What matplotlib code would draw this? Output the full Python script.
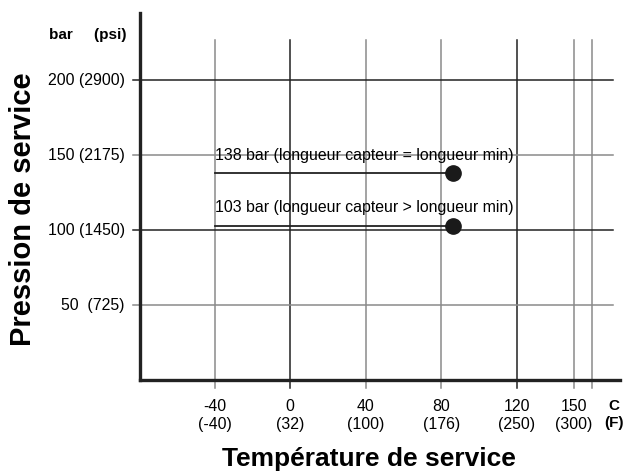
import numpy as np
import matplotlib.pyplot as plt

plt.rcParams['font.family'] = ['Liberation Sans', 'DejaVu Sans']

# temperature grid (C) with F labels
temp_c = [-40, 0, 40, 80, 120, 150, 160]
temp_labels = ["-40\n(-40)", "0\n(32)", "40\n(100)", "80\n(176)", "120\n(250)", "150\n(300)", ""]
temp_colors = ["#8a8a8a", "#222222", "#8a8a8a", "#8a8a8a", "#222222", "#8a8a8a", "#8a8a8a"]

# pressure grid (bar) with psi labels
press_bar = [50, 100, 150, 200]
press_labels = ["50  (725)", "100 (1450)", "150 (2175)", "200 (2900)"]
press_colors = ["#8a8a8a", "#222222", "#8a8a8a", "#222222"]

# rated points
point_temp = [86, 86]
point_press = [138, 103]
point_labels = ["138 bar (longueur capteur = longueur min)",
                "103 bar (longueur capteur > longueur min)"]
line_start = -40

fig = plt.figure(figsize=(6.25, 4.75), dpi=100)
ax = fig.add_axes([0.224, 0.2, 0.768, 0.7726])
xmin, xmax = -79.5, 174.6
ymin, ymax = 0, 244.7
ax.set_xlim(xmin, xmax)
ax.set_ylim(ymin, ymax)

for s in ["top", "right"]:
    ax.spines[s].set_visible(False)
for s in ["left", "bottom"]:
    ax.spines[s].set_linewidth(2.4)
    ax.spines[s].set_color("#222222")
    ax.spines[s].set_zorder(5)
ax.set_xticks([])
ax.set_yticks([])

# vertical grid lines, poking below the axis
for t, lab, c in zip(temp_c, temp_labels, temp_colors):
    ax.plot([t, t], [-5.3, 226.7], color=c, lw=1.1, clip_on=False, zorder=2)
    ax.text(t, -13, lab, ha="center", va="top", fontsize=11.4,
            linespacing=1.2, clip_on=False)
ax.text(171.2, -13, "C\n(F)", ha="center", va="top", fontsize=11,
        fontweight="bold", linespacing=1.25, clip_on=False)

# horizontal grid lines, poking left of the axis
for p, lab, c in zip(press_bar, press_labels, press_colors):
    ax.plot([xmin - 3.7, 170.9], [p, p], color=c, lw=1.1, clip_on=False, zorder=2)
    ax.text(xmin - 8, p, lab, ha="right", va="center", fontsize=11.4,
            clip_on=False)
ax.text(xmin - 7, 230, "bar     (psi)", ha="right", va="center", fontsize=11,
        fontweight="bold", clip_on=False)

# rated pressure lines + points
for t, p, lab, ty in zip(point_temp, point_press, point_labels, [150, 115.3]):
    ax.plot([line_start, t], [p, p], color="#222222", lw=1.3, zorder=3)
    ax.plot(t, p, "o", color="#1a1a1a", markersize=11, zorder=4)
    ax.text(line_start, ty, lab, ha="left", va="center", fontsize=11.4, zorder=4)

fig.text(0.037, 0.56, "Pression de service", rotation=90, ha="center",
         va="center", fontsize=21, fontweight="bold")
fig.text(0.59, 0.033, "Température de service", ha="center", va="center",
         fontsize=19, fontweight="bold")

fig.savefig("out.png", dpi=100)
